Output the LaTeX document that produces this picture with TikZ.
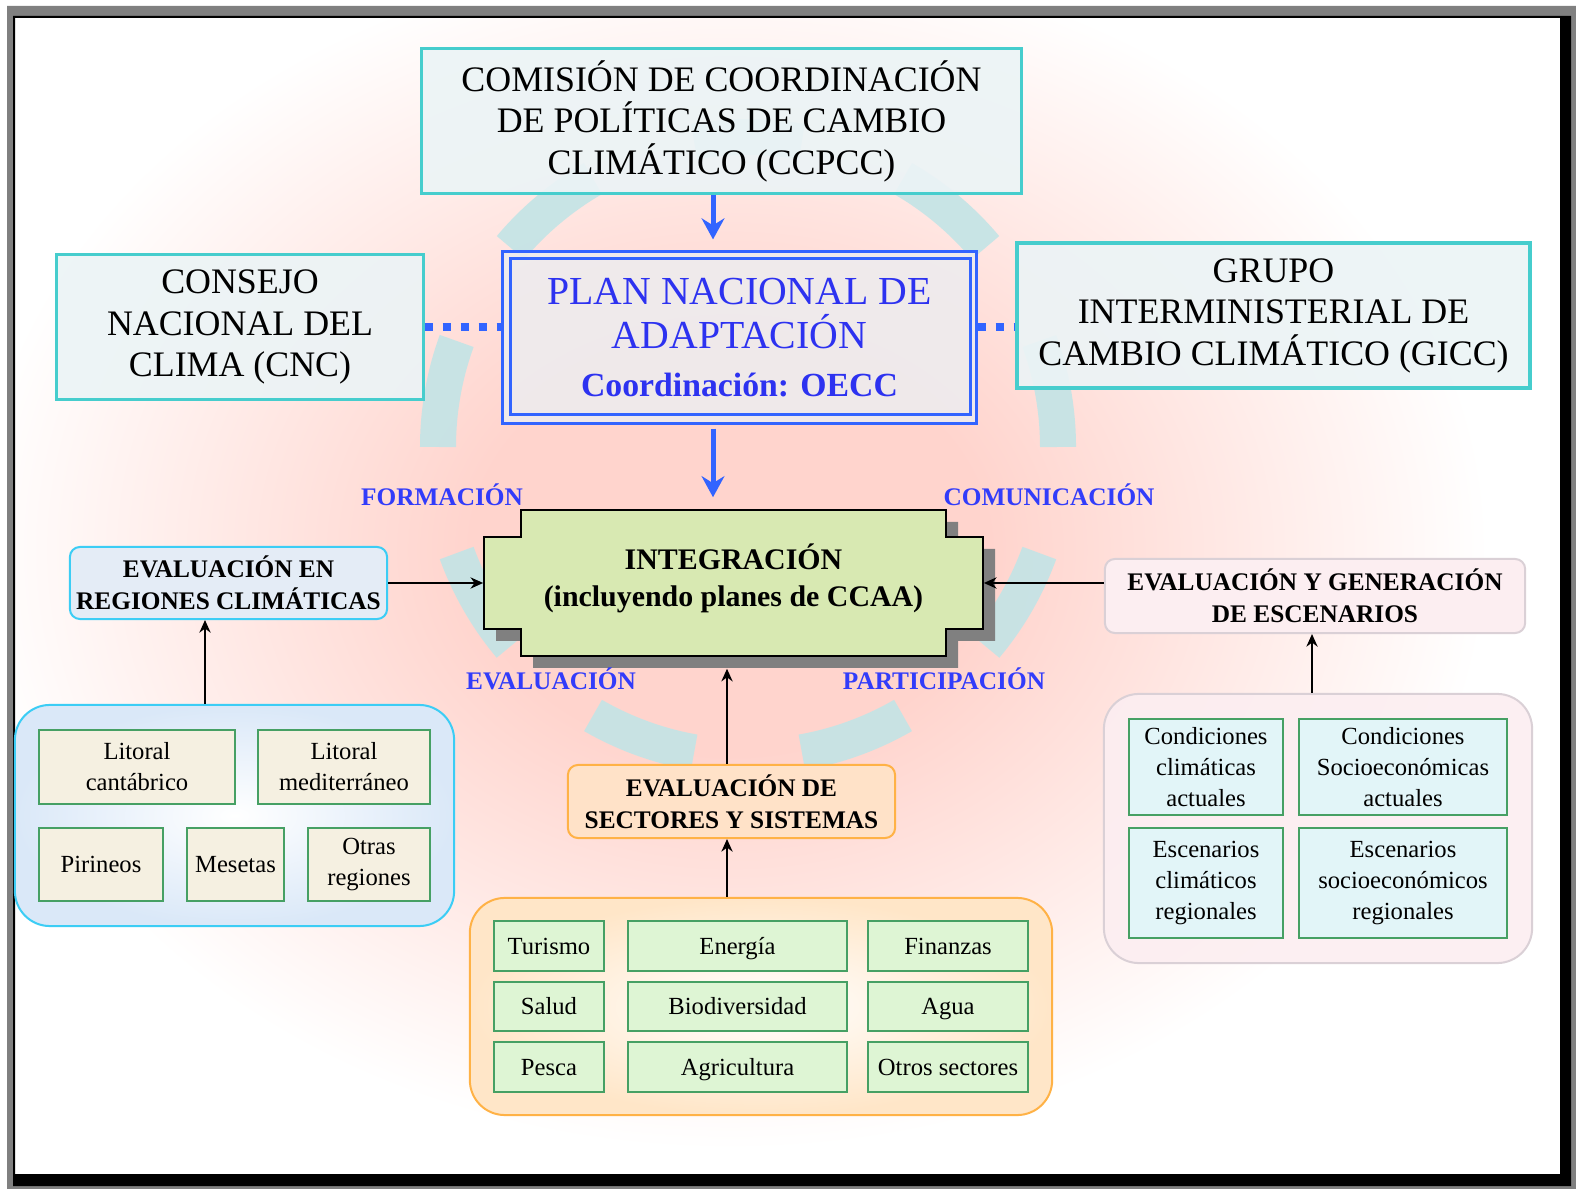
\documentclass[tikz,border=0pt]{standalone}
\usepackage{fontspec}
\setmainfont{Liberation Serif}
\usetikzlibrary{arrows.meta,calc}
\definecolor{framegray}{RGB}{128,128,128}
\definecolor{pinkc}{RGB}{255,212,205}
\definecolor{ringc}{RGB}{195,228,230}
\definecolor{tealc}{RGB}{70,205,205}
\definecolor{tealfill}{RGB}{236,244,246}
\definecolor{planblue}{RGB}{50,100,255}
\definecolor{plantext}{RGB}{45,50,240}
\definecolor{planfill}{RGB}{238,236,238}
\definecolor{lblblue}{RGB}{50,60,250}
\definecolor{integfill}{RGB}{216,233,178}
\definecolor{shadowgray}{RGB}{128,128,128}
\definecolor{greenc}{RGB}{70,160,100}
\definecolor{regborder}{RGB}{60,205,245}
\definecolor{regouter}{RGB}{218,232,248}
\definecolor{regbox}{RGB}{245,240,225}
\definecolor{escborder}{RGB}{218,208,214}
\definecolor{escfill}{RGB}{252,238,241}
\definecolor{escbox}{RGB}{226,245,248}
\definecolor{secborder}{RGB}{255,178,70}
\definecolor{secouter}{RGB}{255,230,200}
\definecolor{secbox}{RGB}{222,245,212}
\definecolor{sectfill}{RGB}{255,226,200}
\definecolor{evregfill}{RGB}{228,236,246}
\newcommand\fbig{\fontsize{10.2pt}{11.8pt}\selectfont}
\newcommand\fplan{\fontsize{11.3pt}{12.5pt}\selectfont}
\newcommand\fhead{\fontsize{7.2pt}{9pt}\selectfont\bfseries}
\newcommand\fsmall{\fontsize{7pt}{8.8pt}\selectfont}
\newcommand\finteg{\fontsize{8.5pt}{10.5pt}\selectfont\bfseries}
\pgfdeclareradialshading{pinkbgshade}{\pgfpoint{0bp}{0bp}}{color(0bp)=(pinkc); color(17bp)=(pinkc); color(50bp)=(white)}
\begin{document}
\begin{tikzpicture}[x=0.01cm,y=0.01cm,
  tealbox/.style={draw=tealc, line width=0.03cm, fill=tealfill, fill opacity=0.9, text opacity=1, align=center, inner sep=0pt, font=\fbig},
  ringseg/.style={draw=ringc, line width=0.36cm, draw opacity=0.9},
  dotline/.style={draw=planblue, line width=0.075cm, dash pattern=on 0.08cm off 0.1cm},
  bluearrow/.style={draw=planblue, line width=0.05cm, -{Stealth[length=6pt,width=6.5pt,inset=2pt]}},
  barrow/.style={draw=black, line width=0.02cm, -{Stealth[length=3.6pt,width=3.2pt]}},
  lbl/.style={text=lblblue, font=\fontsize{7.2pt}{9pt}\selectfont\bfseries, inner sep=0pt},
  headbox/.style={rounded corners=0.1cm, line width=0.02cm, align=center, inner sep=0pt, font=\fhead},
  grpbox/.style={rounded corners=0.35cm, line width=0.02cm, inner sep=0pt},
  gbox/.style={draw=greenc, line width=0.02cm, align=center, inner sep=0pt, font=\fsmall},
  sbox/.style={gbox, text height=0.7em, text depth=0.22em},
  integstyle/.style={draw=black, line width=0.02cm, fill=integfill}
]
\useasboundingbox (0,0) rectangle (1576,-1189);
% page
\fill[white] (0,0) rectangle (1576,-1189);
% background gradient
\node[inner sep=0pt, outer sep=0pt, xscale=4.3, yscale=3.4] (bgshade) at (730,-550) {\pgfuseshading{pinkbgshade}};
% page frame drawn over the gradient
\fill[white, even odd rule] (0,0) rectangle (1576,-1189) (7,-6) rectangle (1576,-1189);
\fill[framegray, even odd rule] (7,-6) rectangle (1576,-1189) (13,-16) rectangle (1571,-1186);
\fill[black, even odd rule] (13,-16) rectangle (1571,-1186) (15,-18) rectangle (1560,-1174);
% ring
\coordinate (rc) at (748,-447);
\foreach \a in {0,40,...,320}
  \draw[ringseg] ($(rc)+(\a:310)$) arc[start angle=\a, delta angle=20, radius=310];
% helper x positions
\coordinate (ax1) at (205,0);
\coordinate (ax2) at (727,0);
\coordinate (ax3) at (1312,0);
\coordinate (ax4) at (713,0);
% top boxes
\node[tealbox, minimum width=5.99cm, minimum height=1.44cm] (ccpcc) at (721.5,-121)
  {COMISIÓN DE COORDINACIÓN\\DE POLÍTICAS DE CAMBIO\\CLIMÁTICO (CCPCC)};
\node[tealbox, minimum width=3.66cm, minimum height=1.44cm] (cnc) at (240,-327)
  {CONSEJO\\NACIONAL DEL\\CLIMA (CNC)};
\node[tealbox, line width=0.035cm, minimum width=5.13cm, minimum height=1.45cm] (gicc) at (1273.5,-315.5)
  {GRUPO\\INTERMINISTERIAL DE\\CAMBIO CLIMÁTICO (GICC)};
% plan
\node[draw=planblue, line width=0.03cm, fill=planfill, fill opacity=0.9, text opacity=1, text=plantext,
  minimum width=4.73cm, minimum height=1.71cm, align=center, inner sep=0pt, font=\fplan] (plan) at (739.5,-337.5)
  {PLAN NACIONAL DE\\ADAPTACIÓN\\[1pt]{\fontsize{9.6pt}{11pt}\selectfont\bfseries Coordinación: OECC}};
\draw[draw=planblue, line width=0.03cm] ([shift={(9,-8)}]plan.north west) rectangle ([shift={(-7,10)}]plan.south east);
% dotted links
\draw[dotline] (cnc.east) -- (cnc.east -| plan.west);
\draw[dotline] (plan.east |- cnc.east) -- (gicc.west |- cnc.east);
% integracion
\node[minimum width=4.99cm, minimum height=1.46cm, inner sep=0pt] (integsh) at (745.5,-595) {};
\fill[shadowgray, shift={(12,-12)}] (521,-510) -- (946,-510) -- (946,-537) -- (983,-537) -- (983,-629) -- (946,-629) -- (946,-656) -- (521,-656) -- (521,-629) -- (484,-629) -- (484,-537) -- (521,-537) -- cycle;
\draw[integstyle] (521,-510) -- (946,-510) -- (946,-537) -- (983,-537) -- (983,-629) -- (946,-629) -- (946,-656) -- (521,-656) -- (521,-629) -- (484,-629) -- (484,-537) -- (521,-537) -- cycle;
\node[minimum width=4.99cm, minimum height=1.46cm, inner sep=0pt] (integ) at (733.5,-583) {};
\node[align=center, inner sep=0pt, font=\finteg] (integtxt) at (733.5,-578)
  {INTEGRACIÓN\\(incluyendo planes de CCAA)};
% blue arrows
\draw[bluearrow, shorten >=0.11cm] (ccpcc.south -| ax4) -- (plan.north -| ax4);
\draw[bluearrow, shorten >=0.12cm, shorten <=0.04cm] (plan.south -| ax4) -- (integ.north -| ax4);
% labels
\node[lbl, anchor=base] (lform) at (442,-506) {FORMACIÓN};
\node[lbl, anchor=base] (lcom) at (1049,-506) {COMUNICACIÓN};
\node[lbl, anchor=base] (leval) at (551,-690) {EVALUACIÓN};
\node[lbl, anchor=base] (lpart) at (944,-690) {PARTICIPACIÓN};
% left: regiones
\node[headbox, draw=regborder, fill=evregfill, minimum width=3.17cm, minimum height=0.72cm] (evreg) at (228.5,-583)
  {EVALUACIÓN EN\\REGIONES CLIMÁTICAS};
\node[grpbox, draw=regborder, inner color=white, outer color=regouter, minimum width=4.39cm, minimum height=2.21cm] (regg) at (234.5,-815.5) {};
\node[gbox, fill=regbox, minimum width=1.96cm, minimum height=0.74cm] (rlc) at (137,-767) {Litoral\\cantábrico};
\node[gbox, fill=regbox, minimum width=1.72cm, minimum height=0.74cm] (rlm) at (344,-767) {Litoral\\mediterráneo};
\node[sbox, fill=regbox, minimum width=1.24cm, minimum height=0.73cm] (rpi) at (101,-864.5) {Pirineos};
\node[sbox, fill=regbox, minimum width=0.97cm, minimum height=0.73cm] (rme) at (235.5,-864.5) {Mesetas};
\node[gbox, fill=regbox, minimum width=1.22cm, minimum height=0.73cm] (rot) at (369,-864.5) {Otras\\regiones};
% right: escenarios
\node[headbox, draw=escborder, fill=escfill, minimum width=4.20cm, minimum height=0.74cm] (esc) at (1315,-596)
  {EVALUACIÓN Y GENERACIÓN\\DE ESCENARIOS};
\node[grpbox, draw=escborder, fill=escfill, fill opacity=0.9, minimum width=4.28cm, minimum height=2.69cm] (escg) at (1318,-828.5) {};
\node[gbox, fill=escbox, minimum width=1.54cm, minimum height=0.96cm] (e1) at (1206,-767) {Condiciones\\climáticas\\actuales};
\node[gbox, fill=escbox, minimum width=2.08cm, minimum height=0.96cm] (e2) at (1403,-767) {Condiciones\\Socioeconómicas\\actuales};
\node[gbox, fill=escbox, minimum width=1.54cm, minimum height=1.10cm] (e3) at (1206,-883) {Escenarios\\climáticos\\regionales};
\node[gbox, fill=escbox, minimum width=2.08cm, minimum height=1.10cm] (e4) at (1403,-883) {Escenarios\\socioeconómicos\\regionales};
% bottom: sectores
\node[headbox, draw=secborder, fill=sectfill, minimum width=3.27cm, minimum height=0.73cm] (sect) at (731.5,-801.5)
  {EVALUACIÓN DE\\SECTORES Y SISTEMAS};
\node[grpbox, draw=secborder, inner color=white, outer color=secouter, minimum width=5.82cm, minimum height=2.17cm] (secg) at (761,-1006.5) {};
\node[sbox, fill=secbox, minimum width=1.10cm, minimum height=0.50cm] (s11) at (549,-946) {Turismo};
\node[sbox, fill=secbox, minimum width=2.19cm, minimum height=0.50cm] (s12) at (737.5,-946) {Energía};
\node[sbox, fill=secbox, minimum width=1.60cm, minimum height=0.50cm] (s13) at (948,-946) {Finanzas};
\node[sbox, fill=secbox, minimum width=1.10cm, minimum height=0.49cm] (s21) at (549,-1006.5) {Salud};
\node[sbox, fill=secbox, minimum width=2.19cm, minimum height=0.49cm] (s22) at (737.5,-1006.5) {Biodiversidad};
\node[sbox, fill=secbox, minimum width=1.60cm, minimum height=0.49cm] (s23) at (948,-1006.5) {Agua};
\node[sbox, fill=secbox, minimum width=1.10cm, minimum height=0.50cm] (s31) at (549,-1067) {Pesca};
\node[sbox, fill=secbox, minimum width=2.19cm, minimum height=0.50cm] (s32) at (737.5,-1067) {Agricultura};
\node[sbox, fill=secbox, minimum width=1.60cm, minimum height=0.50cm] (s33) at (948,-1067) {Otros sectores};
% black arrows
\draw[barrow] (evreg.east) -- (integ.west);
\draw[barrow] (esc.west |- integ.east) -- (integ.east);
\draw[barrow] (regg.north -| ax1) -- (evreg.south -| ax1);
\draw[barrow] (escg.north -| ax3) -- (esc.south -| ax3);
\draw[barrow] (secg.north -| ax2) -- (sect.south -| ax2);
\draw[barrow] (sect.north -| ax2) -- (integsh.south -| ax2);
\end{tikzpicture}
\end{document}
